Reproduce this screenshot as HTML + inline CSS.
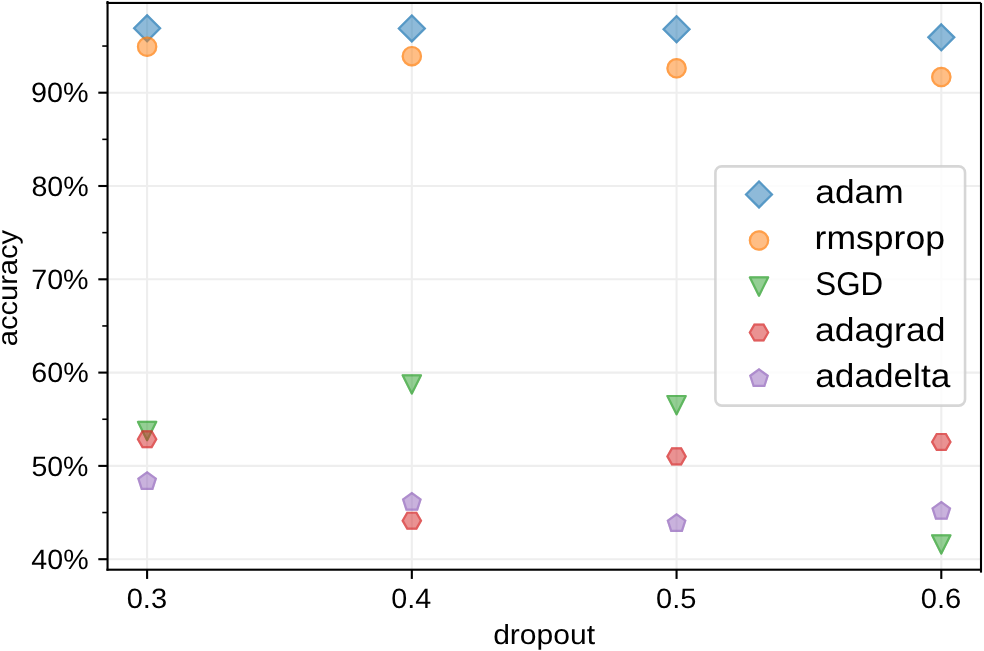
<!DOCTYPE html>
<html><head><meta charset="utf-8"><style>
html,body{margin:0;padding:0;background:#fff;width:984px;height:651px;overflow:hidden}
svg{display:block;will-change:transform}
text{font-family:"Liberation Sans",sans-serif;fill:#000;text-rendering:geometricPrecision}
</style></head><body>
<svg width="984" height="651" viewBox="0 0 984 651">
<rect width="984" height="651" fill="#fff"/>
<g stroke="#eeeeee" stroke-width="2.1"><line x1="147.10" y1="3.00" x2="147.10" y2="569.70"/><line x1="411.83" y1="3.00" x2="411.83" y2="569.70"/><line x1="676.56" y1="3.00" x2="676.56" y2="569.70"/><line x1="941.29" y1="3.00" x2="941.29" y2="569.70"/><line x1="107.55" y1="559.20" x2="981.00" y2="559.20"/><line x1="107.55" y1="465.90" x2="981.00" y2="465.90"/><line x1="107.55" y1="372.60" x2="981.00" y2="372.60"/><line x1="107.55" y1="279.30" x2="981.00" y2="279.30"/><line x1="107.55" y1="186.00" x2="981.00" y2="186.00"/><line x1="107.55" y1="92.70" x2="981.00" y2="92.70"/></g>
<g opacity="0.5"><polygon points="147.10,15.38 160.04,28.32 147.10,41.26 134.16,28.32" fill="rgb(31,119,180)" stroke="rgb(31,119,180)" stroke-width="2.2" stroke-linejoin="miter"/></g><polygon points="147.10,15.38 160.04,28.32 147.10,41.26 134.16,28.32" fill="none" stroke="rgb(31,119,180)" stroke-opacity="0.5" stroke-width="2.2" stroke-linejoin="miter"/><g opacity="0.5"><polygon points="411.83,15.48 424.77,28.42 411.83,41.36 398.89,28.42" fill="rgb(31,119,180)" stroke="rgb(31,119,180)" stroke-width="2.2" stroke-linejoin="miter"/></g><polygon points="411.83,15.48 424.77,28.42 411.83,41.36 398.89,28.42" fill="none" stroke="rgb(31,119,180)" stroke-opacity="0.5" stroke-width="2.2" stroke-linejoin="miter"/><g opacity="0.5"><polygon points="676.56,16.22 689.50,29.16 676.56,42.10 663.62,29.16" fill="rgb(31,119,180)" stroke="rgb(31,119,180)" stroke-width="2.2" stroke-linejoin="miter"/></g><polygon points="676.56,16.22 689.50,29.16 676.56,42.10 663.62,29.16" fill="none" stroke="rgb(31,119,180)" stroke-opacity="0.5" stroke-width="2.2" stroke-linejoin="miter"/><g opacity="0.5"><polygon points="941.29,24.43 954.23,37.37 941.29,50.31 928.35,37.37" fill="rgb(31,119,180)" stroke="rgb(31,119,180)" stroke-width="2.2" stroke-linejoin="miter"/></g><polygon points="941.29,24.43 954.23,37.37 941.29,50.31 928.35,37.37" fill="none" stroke="rgb(31,119,180)" stroke-opacity="0.5" stroke-width="2.2" stroke-linejoin="miter"/>
<g opacity="0.5"><circle cx="147.10" cy="46.70" r="9.15" fill="rgb(255,127,14)" stroke="rgb(255,127,14)" stroke-width="2.2" stroke-linejoin="miter"/></g><circle cx="147.10" cy="46.70" r="9.15" fill="none" stroke="rgb(255,127,14)" stroke-opacity="0.5" stroke-width="2.2" stroke-linejoin="miter"/><g opacity="0.5"><circle cx="411.83" cy="56.13" r="9.15" fill="rgb(255,127,14)" stroke="rgb(255,127,14)" stroke-width="2.2" stroke-linejoin="miter"/></g><circle cx="411.83" cy="56.13" r="9.15" fill="none" stroke="rgb(255,127,14)" stroke-opacity="0.5" stroke-width="2.2" stroke-linejoin="miter"/><g opacity="0.5"><circle cx="676.56" cy="68.35" r="9.15" fill="rgb(255,127,14)" stroke="rgb(255,127,14)" stroke-width="2.2" stroke-linejoin="miter"/></g><circle cx="676.56" cy="68.35" r="9.15" fill="none" stroke="rgb(255,127,14)" stroke-opacity="0.5" stroke-width="2.2" stroke-linejoin="miter"/><g opacity="0.5"><circle cx="941.29" cy="77.12" r="9.15" fill="rgb(255,127,14)" stroke="rgb(255,127,14)" stroke-width="2.2" stroke-linejoin="miter"/></g><circle cx="941.29" cy="77.12" r="9.15" fill="none" stroke="rgb(255,127,14)" stroke-opacity="0.5" stroke-width="2.2" stroke-linejoin="miter"/>
<g opacity="0.5"><polygon points="147.10,440.16 137.95,421.86 156.25,421.86" fill="rgb(44,160,44)" stroke="rgb(44,160,44)" stroke-width="2.2" stroke-linejoin="round"/></g><polygon points="147.10,440.16 137.95,421.86 156.25,421.86" fill="none" stroke="rgb(44,160,44)" stroke-opacity="0.5" stroke-width="2.2" stroke-linejoin="round"/><g opacity="0.5"><polygon points="411.83,393.60 402.68,375.30 420.98,375.30" fill="rgb(44,160,44)" stroke="rgb(44,160,44)" stroke-width="2.2" stroke-linejoin="round"/></g><polygon points="411.83,393.60 402.68,375.30 420.98,375.30" fill="none" stroke="rgb(44,160,44)" stroke-opacity="0.5" stroke-width="2.2" stroke-linejoin="round"/><g opacity="0.5"><polygon points="676.56,414.31 667.41,396.01 685.71,396.01" fill="rgb(44,160,44)" stroke="rgb(44,160,44)" stroke-width="2.2" stroke-linejoin="round"/></g><polygon points="676.56,414.31 667.41,396.01 685.71,396.01" fill="none" stroke="rgb(44,160,44)" stroke-opacity="0.5" stroke-width="2.2" stroke-linejoin="round"/><g opacity="0.5"><polygon points="941.29,553.61 932.14,535.31 950.44,535.31" fill="rgb(44,160,44)" stroke="rgb(44,160,44)" stroke-width="2.2" stroke-linejoin="round"/></g><polygon points="941.29,553.61 932.14,535.31 950.44,535.31" fill="none" stroke="rgb(44,160,44)" stroke-opacity="0.5" stroke-width="2.2" stroke-linejoin="round"/>
<g opacity="0.5"><polygon points="156.25,439.22 151.67,447.14 142.53,447.14 137.95,439.22 142.52,431.29 151.67,431.29" fill="rgb(214,39,40)" stroke="rgb(214,39,40)" stroke-width="2.2" stroke-linejoin="miter"/></g><polygon points="156.25,439.22 151.67,447.14 142.53,447.14 137.95,439.22 142.52,431.29 151.67,431.29" fill="none" stroke="rgb(214,39,40)" stroke-opacity="0.5" stroke-width="2.2" stroke-linejoin="miter"/><g opacity="0.5"><polygon points="420.98,520.67 416.41,528.59 407.26,528.59 402.68,520.67 407.26,512.74 416.41,512.74" fill="rgb(214,39,40)" stroke="rgb(214,39,40)" stroke-width="2.2" stroke-linejoin="miter"/></g><polygon points="420.98,520.67 416.41,528.59 407.26,528.59 402.68,520.67 407.26,512.74 416.41,512.74" fill="none" stroke="rgb(214,39,40)" stroke-opacity="0.5" stroke-width="2.2" stroke-linejoin="miter"/><g opacity="0.5"><polygon points="685.71,456.38 681.14,464.31 671.99,464.31 667.41,456.38 671.99,448.46 681.14,448.46" fill="rgb(214,39,40)" stroke="rgb(214,39,40)" stroke-width="2.2" stroke-linejoin="miter"/></g><polygon points="685.71,456.38 681.14,464.31 671.99,464.31 667.41,456.38 671.99,448.46 681.14,448.46" fill="none" stroke="rgb(214,39,40)" stroke-opacity="0.5" stroke-width="2.2" stroke-linejoin="miter"/><g opacity="0.5"><polygon points="950.44,441.92 945.87,449.85 936.71,449.85 932.14,441.92 936.71,434.00 945.87,434.00" fill="rgb(214,39,40)" stroke="rgb(214,39,40)" stroke-width="2.2" stroke-linejoin="miter"/></g><polygon points="950.44,441.92 945.87,449.85 936.71,449.85 932.14,441.92 936.71,434.00 945.87,434.00" fill="none" stroke="rgb(214,39,40)" stroke-opacity="0.5" stroke-width="2.2" stroke-linejoin="miter"/>
<g opacity="0.5"><polygon points="147.10,472.33 138.40,478.65 141.72,488.88 152.48,488.88 155.80,478.65" fill="rgb(148,103,189)" stroke="rgb(148,103,189)" stroke-width="2.2" stroke-linejoin="miter"/></g><polygon points="147.10,472.33 138.40,478.65 141.72,488.88 152.48,488.88 155.80,478.65" fill="none" stroke="rgb(148,103,189)" stroke-opacity="0.5" stroke-width="2.2" stroke-linejoin="miter"/><g opacity="0.5"><polygon points="411.83,493.14 403.13,499.46 406.45,509.69 417.21,509.69 420.53,499.46" fill="rgb(148,103,189)" stroke="rgb(148,103,189)" stroke-width="2.2" stroke-linejoin="miter"/></g><polygon points="411.83,493.14 403.13,499.46 406.45,509.69 417.21,509.69 420.53,499.46" fill="none" stroke="rgb(148,103,189)" stroke-opacity="0.5" stroke-width="2.2" stroke-linejoin="miter"/><g opacity="0.5"><polygon points="676.56,514.32 667.86,520.64 671.18,530.87 681.94,530.87 685.26,520.64" fill="rgb(148,103,189)" stroke="rgb(148,103,189)" stroke-width="2.2" stroke-linejoin="miter"/></g><polygon points="676.56,514.32 667.86,520.64 671.18,530.87 681.94,530.87 685.26,520.64" fill="none" stroke="rgb(148,103,189)" stroke-opacity="0.5" stroke-width="2.2" stroke-linejoin="miter"/><g opacity="0.5"><polygon points="941.29,502.09 932.59,508.42 935.91,518.65 946.67,518.65 949.99,508.42" fill="rgb(148,103,189)" stroke="rgb(148,103,189)" stroke-width="2.2" stroke-linejoin="miter"/></g><polygon points="941.29,502.09 932.59,508.42 935.91,518.65 946.67,518.65 949.99,508.42" fill="none" stroke="rgb(148,103,189)" stroke-opacity="0.5" stroke-width="2.2" stroke-linejoin="miter"/>
<g fill="#000"><rect x="106.5" y="1.0" width="2.1" height="569.7"/><rect x="106.45" y="1.9" width="874.45" height="2.1"/><rect x="979.95" y="2.9" width="2.1" height="569.7"/><rect x="106.45" y="568.65" width="875.1" height="2.1"/></g>
<g stroke="#000" stroke-width="2.1"><line x1="147.10" y1="569.70" x2="147.10" y2="578.94"/><line x1="411.83" y1="569.70" x2="411.83" y2="578.94"/><line x1="676.56" y1="569.70" x2="676.56" y2="578.94"/><line x1="941.29" y1="569.70" x2="941.29" y2="578.94"/><line x1="98.31" y1="559.20" x2="107.55" y2="559.20"/><line x1="98.31" y1="465.90" x2="107.55" y2="465.90"/><line x1="98.31" y1="372.60" x2="107.55" y2="372.60"/><line x1="98.31" y1="279.30" x2="107.55" y2="279.30"/><line x1="98.31" y1="186.00" x2="107.55" y2="186.00"/><line x1="98.31" y1="92.70" x2="107.55" y2="92.70"/></g>
<g stroke="#000" stroke-width="1.6"><line x1="102.27" y1="512.55" x2="107.55" y2="512.55"/><line x1="102.27" y1="419.25" x2="107.55" y2="419.25"/><line x1="102.27" y1="325.95" x2="107.55" y2="325.95"/><line x1="102.27" y1="232.65" x2="107.55" y2="232.65"/><line x1="102.27" y1="139.35" x2="107.55" y2="139.35"/><line x1="102.27" y1="46.05" x2="107.55" y2="46.05"/></g>
<rect x="715.4" y="166.35" width="249.65" height="239.25" rx="6.3" ry="6.3" fill="#fff" fill-opacity="0.8" stroke="#cccccc" stroke-opacity="0.8" stroke-width="2.6"/>
<g opacity="0.5"><polygon points="759.00,181.51 771.94,194.45 759.00,207.39 746.06,194.45" fill="rgb(31,119,180)" stroke="rgb(31,119,180)" stroke-width="2.2" stroke-linejoin="miter"/></g><polygon points="759.00,181.51 771.94,194.45 759.00,207.39 746.06,194.45" fill="none" stroke="rgb(31,119,180)" stroke-opacity="0.5" stroke-width="2.2" stroke-linejoin="miter"/>
<g opacity="0.5"><circle cx="759.00" cy="240.48" r="9.15" fill="rgb(255,127,14)" stroke="rgb(255,127,14)" stroke-width="2.2" stroke-linejoin="miter"/></g><circle cx="759.00" cy="240.48" r="9.15" fill="none" stroke="rgb(255,127,14)" stroke-opacity="0.5" stroke-width="2.2" stroke-linejoin="miter"/>
<g opacity="0.5"><polygon points="759.00,295.66 749.85,277.36 768.15,277.36" fill="rgb(44,160,44)" stroke="rgb(44,160,44)" stroke-width="2.2" stroke-linejoin="round"/></g><polygon points="759.00,295.66 749.85,277.36 768.15,277.36" fill="none" stroke="rgb(44,160,44)" stroke-opacity="0.5" stroke-width="2.2" stroke-linejoin="round"/>
<g opacity="0.5"><polygon points="768.15,332.54 763.58,340.46 754.42,340.46 749.85,332.54 754.42,324.62 763.58,324.62" fill="rgb(214,39,40)" stroke="rgb(214,39,40)" stroke-width="2.2" stroke-linejoin="miter"/></g><polygon points="768.15,332.54 763.58,340.46 754.42,340.46 749.85,332.54 754.42,324.62 763.58,324.62" fill="none" stroke="rgb(214,39,40)" stroke-opacity="0.5" stroke-width="2.2" stroke-linejoin="miter"/>
<g opacity="0.5"><polygon points="759.00,369.42 750.30,375.74 753.62,385.97 764.38,385.97 767.70,375.74" fill="rgb(148,103,189)" stroke="rgb(148,103,189)" stroke-width="2.2" stroke-linejoin="miter"/></g><polygon points="759.00,369.42 750.30,375.74 753.62,385.97 764.38,385.97 767.70,375.74" fill="none" stroke="rgb(148,103,189)" stroke-opacity="0.5" stroke-width="2.2" stroke-linejoin="miter"/>
<text x="31.39" y="569.00" font-size="28.05" textLength="57.23" lengthAdjust="spacingAndGlyphs">40%</text>
<text x="31.42" y="476.00" font-size="28.05" textLength="57.06" lengthAdjust="spacingAndGlyphs">50%</text>
<text x="31.28" y="382.00" font-size="28.05" textLength="57.41" lengthAdjust="spacingAndGlyphs">60%</text>
<text x="31.20" y="289.00" font-size="28.05" textLength="57.38" lengthAdjust="spacingAndGlyphs">70%</text>
<text x="31.41" y="196.00" font-size="28.05" textLength="57.31" lengthAdjust="spacingAndGlyphs">80%</text>
<text x="31.01" y="102.00" font-size="28.05" textLength="57.64" lengthAdjust="spacingAndGlyphs">90%</text>
<text x="126.66" y="608.00" font-size="28.05" textLength="40.42" lengthAdjust="spacingAndGlyphs">0.3</text>
<text x="391.31" y="608.00" font-size="28.05" textLength="39.90" lengthAdjust="spacingAndGlyphs">0.4</text>
<text x="656.12" y="608.00" font-size="28.05" textLength="40.29" lengthAdjust="spacingAndGlyphs">0.5</text>
<text x="920.70" y="608.00" font-size="28.05" textLength="40.49" lengthAdjust="spacingAndGlyphs">0.6</text>
<text x="493.15" y="643.80" font-size="27.74" textLength="101.93" lengthAdjust="spacingAndGlyphs">dropout</text>
<text transform="translate(16.70,346.31) rotate(-90)" x="0" y="0" font-size="27.74" textLength="116.46" lengthAdjust="spacingAndGlyphs">accuracy</text>
<text x="815.26" y="202.90" font-size="33.00" textLength="88.56" lengthAdjust="spacingAndGlyphs">adam</text>
<text x="814.55" y="248.93" font-size="33.00" textLength="130.42" lengthAdjust="spacingAndGlyphs">rmsprop</text>
<text x="815.30" y="294.96" font-size="33.00" textLength="67.82" lengthAdjust="spacingAndGlyphs">SGD</text>
<text x="815.01" y="340.99" font-size="33.00" textLength="130.50" lengthAdjust="spacingAndGlyphs">adagrad</text>
<text x="815.28" y="387.02" font-size="33.00" textLength="135.03" lengthAdjust="spacingAndGlyphs">adadelta</text>
</svg></body></html>
